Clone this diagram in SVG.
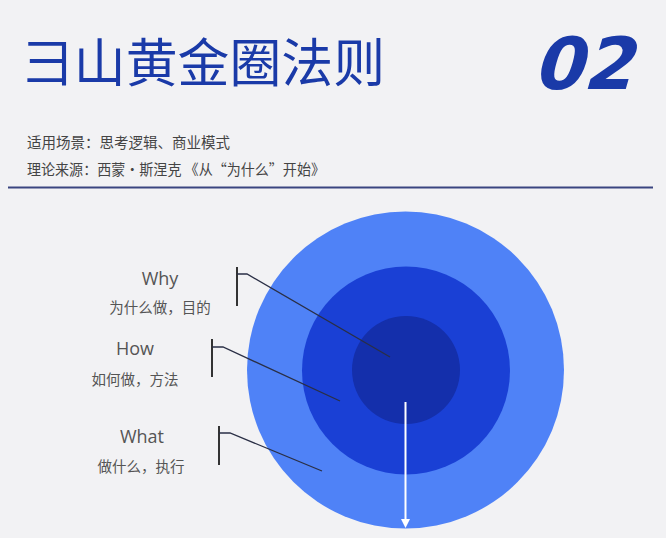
<svg xmlns="http://www.w3.org/2000/svg" width="666" height="538" viewBox="0 0 666 538">
<defs>
<style>
.t{font-family:"Noto Sans CJK SC","Noto Sans",sans-serif;}
.sub{font-size:14.5px;fill:#444;}
.lab{font-family:"Open Sans","Noto Sans",sans-serif;font-size:18px;fill:#555;text-anchor:middle;}
.cap{font-size:14.5px;fill:#555;text-anchor:middle;}
.br{stroke:#333;stroke-width:2;fill:none;}
.ln{stroke:#2a2f45;stroke-width:1.3;fill:none;}
</style>
</defs>
<rect width="666" height="538" fill="#f2f2f4"/>
<g id="title">
<text class="t" x="22" y="82" font-size="52" fill="#1a3aa8" font-weight="400" textLength="363" lengthAdjust="spacingAndGlyphs">彐山黄金圈法则</text>
</g>
<g id="num">
<text x="0" y="0" transform="translate(532,89) skewX(-16)" font-family="DejaVu Sans, sans-serif" font-size="72" font-weight="bold" fill="#1a3aa8" textLength="100" lengthAdjust="spacingAndGlyphs">02</text>
</g>
<g id="subtitle">
<text class="t sub" x="27" y="148" textLength="203" lengthAdjust="spacingAndGlyphs">适用场景：思考逻辑、商业模式</text>
<text class="t sub" x="27" y="175" textLength="298" lengthAdjust="spacingAndGlyphs">理论来源：西蒙·斯涅克 《从“为什么”开始》</text>
</g>
<line x1="8" y1="187.5" x2="653" y2="187.5" stroke="#3a4580" stroke-width="2"/>
<g id="circles">
<circle cx="405.5" cy="370" r="158.5" fill="#4f82f7"/>
<circle cx="406" cy="370.5" r="104" fill="#1a40d5"/>
<circle cx="406" cy="370" r="54" fill="#142fab"/>
</g>
<g id="why">
<text class="lab" x="160" y="285">Why</text>
<text class="t cap" x="160" y="313">为什么做，目的</text>
</g>
<g id="how">
<text class="lab" x="135" y="355">How</text>
<text class="t cap" x="135" y="385">如何做，方法</text>
</g>
<g id="what">
<text class="lab" x="142" y="443">What</text>
<text class="t cap" x="141" y="472">做什么，执行</text>
</g>
<g id="connectors">
<line class="br" x1="237" y1="267" x2="237" y2="306"/>
<polyline class="ln" points="237,274 247,274 390,357"/>
<line class="br" x1="212" y1="339" x2="212" y2="377"/>
<polyline class="ln" points="212,347 223,347 340,401"/>
<line class="br" x1="219" y1="426" x2="219" y2="465"/>
<polyline class="ln" points="219,433 230,433 322,471"/>
<line x1="405.5" y1="402" x2="405.5" y2="520" stroke="#fff" stroke-width="2"/>
<path d="M401,519 L410,519 L405.5,528 Z" fill="#fff"/>
</g>
</svg>
